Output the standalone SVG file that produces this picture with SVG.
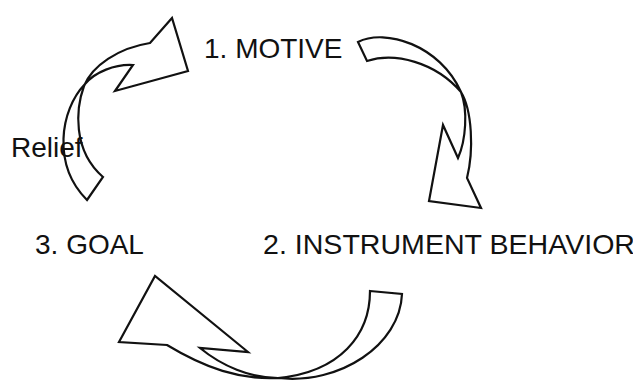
<svg xmlns="http://www.w3.org/2000/svg" width="633" height="380" viewBox="0 0 633 380">
<style>
.lbl{font-family:"Liberation Sans",Arial,sans-serif;font-size:28px;fill:#111}
.arr{fill:none;stroke:#111;stroke-width:2.2;stroke-linejoin:miter}
</style>
<rect width="633" height="380" fill="#fff"/>
<g id="motive"><text class="lbl" x="204" y="58">1. MOTIVE</text></g>
<g id="instrument"><text class="lbl" x="263" y="254" textLength="372" lengthAdjust="spacingAndGlyphs">2. INSTRUMENT BEHAVIOR</text></g>
<g id="goal"><text class="lbl" x="35" y="254">3. GOAL</text></g>
<g id="relief"><text class="lbl" x="11" y="157">Relief</text></g>
<g id="connectors">
<path class="arr" d="M87,200 L103,177 C72,150 76,108 84,86 C92,66 118,48 150,43 L172,18 L188,71 L115,91 L133,65 C115,64 95,72 85,84 C60,110 52,165 87,200 Z"/>
<path class="arr" d="M358,42 C385,28 440,45 461,92 C468,110 466,140 458,158 L443,125 L429,201 L481,208 L467,178 C474,150 472,110 461,92 C435,62 395,52 367,61 Z"/>
<path class="arr" d="M370,291 L402,294 C400,345 340,385 278,378 C250,378 222,366 200,348 L248,352 L155,276 L119,342 L167,345 C205,368 240,380 278,378 C340,372 370,335 370,291 Z"/>
</g>
</svg>
